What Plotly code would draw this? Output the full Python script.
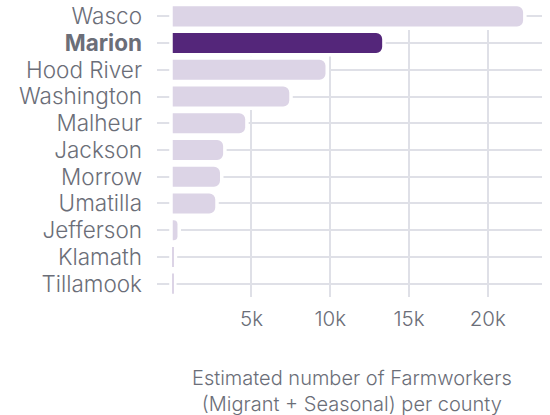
import plotly.graph_objects as go

counties = ["Wasco", "Marion", "Hood River", "Washington", "Malheur", "Jackson",
            "Morrow", "Umatilla", "Jefferson", "Klamath", "Tillamook"]
farmworkers = [22250, 13300, 9700, 7400, 4600, 3200, 3000, 2700, 300, 60, 20]
highlight = "Marion"

x_ticks = [5000, 10000, 15000, 20000]
x_tick_labels = ["5k", "10k", "15k", "20k"]
title_lines = ["Estimated number of Farmworkers", "(Migrant + Seasonal) per county"]

light = "#dcd4e6"
dark = "#54267a"
grid = "#dfe0e7"
text_col = "#6b6e78"
FONT = "Inter"

colors = [dark if c == highlight else light for c in counties]
tick_text = ["<b>%s</b>" % c if c == highlight else c for c in counties]

fig = go.Figure()

# white halo under each bar so the grid looks cut around it
fig.add_trace(go.Bar(
    y=counties, x=farmworkers, orientation="h", width=0.75,
    marker=dict(color="white", line=dict(color="white", width=7), cornerradius=6),
    hoverinfo="skip", showlegend=False,
))
fig.add_trace(go.Bar(
    y=counties, x=farmworkers, orientation="h", width=0.75,
    marker=dict(color=colors, line=dict(width=0), cornerradius=6),
    showlegend=False,
))

fig.update_layout(
    width=550, height=415,
    margin=dict(l=157, r=8, t=3, b=118),
    barmode="overlay",
    plot_bgcolor="white", paper_bgcolor="white",
    font=dict(family=FONT, size=19, color=text_col, weight=300),
    xaxis=dict(
        range=[-1000, 23450], tickvals=x_ticks, ticktext=x_tick_labels,
        showgrid=True, gridcolor=grid, gridwidth=2, zeroline=False,
        showline=False, ticks="", ticklabelstandoff=7, automargin=False,
        tickfont=dict(size=20.5, weight=300),
    ),
    yaxis=dict(
        categoryorder="array", categoryarray=counties, autorange="reversed",
        tickvals=counties, ticktext=tick_text,
        showgrid=True, gridcolor=grid, gridwidth=2, zeroline=False,
        showline=False, ticks="", ticklabelstandoff=14, automargin=False,
        tickfont=dict(size=22.5, weight=300),
    ),
)

fig.add_annotation(
    text="<br>".join(title_lines), xref="paper", yref="paper", x=0.506, y=-0.321,
    xanchor="center", yanchor="middle", showarrow=False,
    font=dict(family=FONT, size=20, color=text_col, weight=300),
)

# drop the browser's default 8px body margin so the figure sits at the page corner
fig.write_html("out.html", config={"displayModeBar": False},
               post_script="document.body.style.margin='0';")
